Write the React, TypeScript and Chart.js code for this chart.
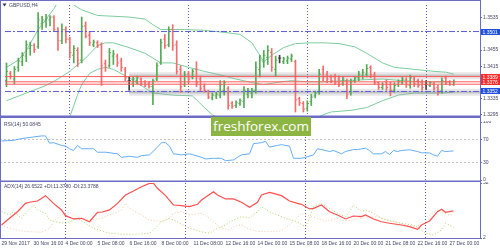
import { useEffect, useRef } from "react";
import { Chart, registerables } from "chart.js";

Chart.register(...registerables);

// ---------------- data ----------------
const tickLabels = ["29 Nov 2017", "30 Nov 16:00", "4 Dec 00:00", "5 Dec 08:00", "6 Dec 16:00", "8 Dec 00:00", "11 Dec 08:00", "12 Dec 16:00", "14 Dec 00:00", "15 Dec 08:00", "18 Dec 16:00", "20 Dec 00:00", "21 Dec 08:00", "22 Dec 16:00", "27 Dec 00:00"];
const tickBars = [0, 8, 16, 24, 32, 40, 48, 56, 64, 72, 80, 88, 96, 104, 112];
const weekStartBars = [16, 46, 76, 106];

const opens = [
  1.3379, 1.3397, 1.3383, 1.3412, 1.3426, 1.3440, 1.3459, 1.3466, 1.3463, 1.3520,
  1.3525, 1.3530, 1.3537, 1.3501, 1.3478, 1.3506, 1.3482, 1.3442, 1.3454, 1.3430,
  1.3515, 1.3492, 1.3468, 1.3473, 1.3468, 1.3421, 1.3416, 1.3440, 1.3440, 1.3428,
  1.3407, 1.3379, 1.3371, 1.3379, 1.3383, 1.3376, 1.3371, 1.3364, 1.3383, 1.3423,
  1.3482, 1.3468, 1.3506, 1.3468, 1.3407, 1.3369, 1.3395, 1.3388, 1.3407, 1.3383,
  1.3364, 1.3353, 1.3336, 1.3341, 1.3343, 1.3355, 1.3360, 1.3322, 1.3317, 1.3322,
  1.3327, 1.3345, 1.3348, 1.3355, 1.3407, 1.3426, 1.3437, 1.3449, 1.3407, 1.3435,
  1.3426, 1.3428, 1.3433, 1.3426, 1.3334, 1.3322, 1.3310, 1.3327, 1.3341, 1.3350,
  1.3407, 1.3393, 1.3388, 1.3388, 1.3383, 1.3371, 1.3379, 1.3350, 1.3379, 1.3386,
  1.3390, 1.3395, 1.3412, 1.3393, 1.3374, 1.3362, 1.3374, 1.3369, 1.3355, 1.3369,
  1.3374, 1.3381, 1.3367, 1.3383, 1.3379, 1.3374, 1.3369, 1.3367, 1.3371, 1.3362,
  1.3353, 1.3386, 1.3376, 1.3369,
];
const highs = [
  1.3423, 1.3402, 1.3414, 1.3435, 1.3449, 1.3478, 1.3475, 1.3471, 1.3548, 1.3539,
  1.3544, 1.3541, 1.3541, 1.3511, 1.3520, 1.3513, 1.3487, 1.3466, 1.3461, 1.3537,
  1.3525, 1.3501, 1.3480, 1.3478, 1.3473, 1.3430, 1.3459, 1.3454, 1.3445, 1.3435,
  1.3412, 1.3388, 1.3388, 1.3390, 1.3386, 1.3379, 1.3376, 1.3383, 1.3423, 1.3482,
  1.3494, 1.3513, 1.3518, 1.3478, 1.3416, 1.3402, 1.3402, 1.3407, 1.3426, 1.3390,
  1.3371, 1.3355, 1.3348, 1.3350, 1.3379, 1.3379, 1.3364, 1.3327, 1.3329, 1.3334,
  1.3364, 1.3360, 1.3360, 1.3426, 1.3442, 1.3454, 1.3466, 1.3459, 1.3440, 1.3442,
  1.3437, 1.3440, 1.3445, 1.3430, 1.3338, 1.3327, 1.3329, 1.3345, 1.3353, 1.3407,
  1.3416, 1.3402, 1.3393, 1.3395, 1.3390, 1.3388, 1.3383, 1.3383, 1.3390, 1.3402,
  1.3407, 1.3419, 1.3416, 1.3400, 1.3376, 1.3374, 1.3381, 1.3376, 1.3374, 1.3381,
  1.3388, 1.3386, 1.3393, 1.3388, 1.3383, 1.3381, 1.3379, 1.3376, 1.3374, 1.3367,
  1.3386, 1.3390, 1.3379, 1.3381,
];
const lows = [
  1.3364, 1.3383, 1.3371, 1.3402, 1.3416, 1.3426, 1.3442, 1.3449, 1.3459, 1.3506,
  1.3511, 1.3515, 1.3501, 1.3454, 1.3471, 1.3473, 1.3435, 1.3423, 1.3414, 1.3423,
  1.3485, 1.3466, 1.3463, 1.3461, 1.3367, 1.3402, 1.3412, 1.3419, 1.3414, 1.3402,
  1.3379, 1.3355, 1.3364, 1.3371, 1.3367, 1.3364, 1.3360, 1.3319, 1.3379, 1.3419,
  1.3459, 1.3463, 1.3454, 1.3395, 1.3350, 1.3364, 1.3374, 1.3383, 1.3364, 1.3353,
  1.3350, 1.3334, 1.3331, 1.3334, 1.3336, 1.3343, 1.3308, 1.3310, 1.3312, 1.3317,
  1.3312, 1.3336, 1.3336, 1.3348, 1.3388, 1.3412, 1.3419, 1.3402, 1.3390, 1.3423,
  1.3421, 1.3421, 1.3426, 1.3301, 1.3317, 1.3301, 1.3303, 1.3317, 1.3336, 1.3345,
  1.3379, 1.3374, 1.3374, 1.3369, 1.3364, 1.3367, 1.3334, 1.3343, 1.3374, 1.3379,
  1.3383, 1.3388, 1.3386, 1.3369, 1.3357, 1.3357, 1.3355, 1.3341, 1.3350, 1.3364,
  1.3369, 1.3362, 1.3360, 1.3364, 1.3362, 1.3355, 1.3357, 1.3364, 1.3355, 1.3343,
  1.3348, 1.3369, 1.3367, 1.3367,
];
const closes = [
  1.3402, 1.3390, 1.3407, 1.3428, 1.3442, 1.3468, 1.3466, 1.3456, 1.3530, 1.3530,
  1.3534, 1.3537, 1.3506, 1.3478, 1.3506, 1.3482, 1.3449, 1.3459, 1.3430, 1.3513,
  1.3489, 1.3473, 1.3475, 1.3466, 1.3416, 1.3412, 1.3449, 1.3445, 1.3423, 1.3412,
  1.3386, 1.3379, 1.3383, 1.3386, 1.3371, 1.3369, 1.3364, 1.3379, 1.3416, 1.3473,
  1.3466, 1.3506, 1.3466, 1.3402, 1.3364, 1.3393, 1.3383, 1.3402, 1.3374, 1.3360,
  1.3355, 1.3338, 1.3343, 1.3345, 1.3369, 1.3374, 1.3317, 1.3315, 1.3324, 1.3329,
  1.3355, 1.3353, 1.3355, 1.3412, 1.3430, 1.3442, 1.3454, 1.3412, 1.3430, 1.3435,
  1.3433, 1.3435, 1.3440, 1.3331, 1.3324, 1.3308, 1.3322, 1.3338, 1.3348, 1.3395,
  1.3388, 1.3383, 1.3379, 1.3374, 1.3369, 1.3383, 1.3345, 1.3376, 1.3386, 1.3395,
  1.3400, 1.3409, 1.3393, 1.3374, 1.3362, 1.3369, 1.3362, 1.3355, 1.3367, 1.3376,
  1.3383, 1.3369, 1.3386, 1.3371, 1.3367, 1.3362, 1.3369, 1.3374, 1.3360, 1.3350,
  1.3379, 1.3374, 1.3369, 1.3376,
];

const bbUpperIdx = [0, 3, 5, 6, 8, 10, 12, 13, 14, 15, 16, 17, 19, 23, 27, 31, 35, 37, 39, 41, 45, 50, 55, 59, 62, 64, 65, 67, 70, 73, 77, 80, 84, 88, 91, 95, 98, 103, 108, 111, 113];
const bbUpperVal = [1.3412, 1.3430, 1.3454, 1.3471, 1.3506, 1.3532, 1.3558, 1.3574, 1.3586, 1.3584, 1.3577, 1.3567, 1.3555, 1.3541, 1.3539, 1.3537, 1.3532, 1.3518, 1.3506, 1.3506, 1.3506, 1.3504, 1.3499, 1.3494, 1.3473, 1.3442, 1.3426, 1.3442, 1.3461, 1.3471, 1.3473, 1.3473, 1.3471, 1.3463, 1.3447, 1.3423, 1.3412, 1.3407, 1.3402, 1.3400, 1.3395];
const bbMidIdx = [0, 5, 10, 13, 16, 18, 20, 23, 25, 27, 31, 35, 39, 42, 46, 50, 54, 58, 62, 65, 68, 72, 76, 80, 85, 90, 95, 100, 105, 110, 113];
const bbMidVal = [1.3329, 1.3348, 1.3367, 1.3383, 1.3402, 1.3419, 1.3435, 1.3466, 1.3473, 1.3473, 1.3461, 1.3447, 1.3423, 1.3423, 1.3412, 1.3402, 1.3393, 1.3383, 1.3374, 1.3369, 1.3374, 1.3379, 1.3376, 1.3376, 1.3379, 1.3381, 1.3383, 1.3379, 1.3376, 1.3376, 1.3376];
const bbLowerIdx = [14, 16, 18, 19, 21, 23, 25, 27, 31, 34, 37, 42, 47, 50, 52, 55, 60, 70, 76, 80, 82, 87, 91, 95, 99, 103, 110, 113];
const bbLowerVal = [1.3265, 1.3289, 1.3345, 1.3369, 1.3397, 1.3407, 1.3412, 1.3407, 1.3386, 1.3367, 1.3348, 1.3343, 1.3341, 1.3312, 1.3294, 1.3277, 1.3270, 1.3265, 1.3275, 1.3294, 1.3301, 1.3305, 1.3312, 1.3329, 1.3343, 1.3348, 1.3348, 1.3350];

const rsiIdx = [0, 3, 5, 8, 10, 11, 12, 13, 15, 16, 17, 18, 19, 20, 22, 23, 24, 26, 29, 30, 32, 34, 35, 37, 39, 40, 41, 42, 43, 45, 47, 48, 50, 51, 53, 55, 56, 58, 59, 60, 62, 63, 65, 66, 67, 69, 70, 72, 73, 75, 76, 78, 79, 81, 82, 83, 85, 86, 88, 89, 91, 92, 93, 95, 96, 97, 98, 99, 100, 102, 104, 105, 107, 108, 109, 110, 111, 112, 113];
const rsiVal = [67.2, 68.4, 71.4, 74.2, 76, 76, 63.5, 64.4, 59.6, 58.4, 53.9, 50.9, 59.6, 53.9, 53.9, 53.9, 47.9, 47.9, 45.1, 39.1, 40.9, 39.1, 42.1, 43.3, 56.7, 64.4, 64.4, 58.4, 45.1, 43.3, 45.1, 43.3, 39.1, 36.3, 37.4, 37.4, 33.3, 34.6, 39.1, 43.3, 45.1, 62.6, 64.4, 66.7, 56.7, 59.6, 60.9, 58.4, 37.4, 37.4, 39.1, 43.3, 53.9, 50.9, 49.1, 50.9, 45.1, 49.1, 52.6, 52.6, 54.9, 50.9, 45.1, 45.1, 49.1, 43.9, 50.9, 49.1, 50.9, 52.1, 49.1, 46.8, 46.8, 43.3, 40.9, 50.9, 49.1, 49.6, 50.08];

const adxIdx = [0, 2, 4, 6, 7, 9, 11, 13, 15, 16, 18, 20, 22, 24, 25, 27, 29, 31, 33, 35, 37, 38, 39, 41, 43, 45, 47, 49, 50, 53, 54, 56, 58, 60, 62, 64, 65, 67, 68, 70, 72, 74, 75, 77, 78, 80, 82, 84, 86, 88, 90, 91, 93, 95, 97, 100, 102, 104, 105, 107, 109, 110, 111, 113];
const adxVal = [13.8, 19.9, 25.9, 33.5, 34.5, 35.6, 40.5, 33.5, 27.5, 22.3, 19.3, 19.9, 16.8, 25.4, 25.4, 27.5, 33.5, 41.1, 44.7, 48.6, 51.7, 51.7, 47.2, 40.5, 32, 31.4, 30.5, 32.6, 36.5, 44.1, 41.1, 37.5, 37.5, 34.5, 30, 34.5, 41.1, 43.5, 42.6, 40.5, 35.6, 33.5, 32.6, 28.4, 29, 32, 25.9, 22.9, 19.3, 22, 21.4, 22.9, 19.3, 16.8, 15.4, 13.8, 12.3, 9.9, 13.8, 17.5, 25.9, 28.1, 25.4, 26.65];
const plusDiIdx = [0, 2, 3, 5, 6, 8, 9, 11, 12, 14, 16, 17, 19, 21, 23, 27, 30, 34, 37, 38, 40, 42, 43, 45, 47, 50, 52, 54, 56, 57, 60, 62, 64, 65, 67, 69, 71, 74, 76, 77, 78, 80, 82, 84, 86, 87, 88, 90, 91, 93, 95, 98, 100, 103, 105, 106, 108, 110, 111, 112, 113];
const plusDiVal = [25.9, 22.9, 25.9, 19.9, 24.5, 32, 27.5, 24.5, 18.4, 16.3, 15.4, 16.8, 19.9, 15.4, 10.8, 6.3, 5.4, 5.4, 6.3, 9.3, 16.8, 19.9, 18.4, 14.5, 10.8, 7.7, 6.3, 10.8, 13.8, 16.8, 21.4, 20.5, 25.9, 30.5, 25.9, 22.9, 19.9, 16.8, 12.3, 19.9, 30.5, 33.5, 29, 24.5, 21.4, 25.9, 32, 25.9, 27.5, 24.5, 19.9, 16.8, 15.4, 13.8, 9.3, 6.3, 4.7, 9.3, 15.4, 13.8, 11.378];
const minusDiIdx = [0, 2, 5, 7, 10, 12, 13, 15, 17, 18, 20, 22, 25, 27, 30, 31, 32, 35, 37, 40, 42, 43, 45, 47, 50, 52, 53, 55, 57, 58, 60, 62, 64, 67, 70, 72, 75, 76, 79, 81, 84, 86, 89, 91, 94, 96, 99, 101, 104, 105, 107, 109, 110, 112, 113];
const minusDiVal = [13.8, 10.8, 8.4, 7.7, 7.2, 10.8, 16.8, 22.9, 25.9, 22.9, 19.9, 18.4, 19.9, 22.9, 27.5, 33.5, 29, 22.9, 18.4, 16.8, 19.9, 24.5, 25.9, 22.9, 24.5, 19.9, 16.8, 10.8, 9.3, 12.3, 14, 10, 7.9, 7.7, 8.4, 14, 24.5, 22.9, 19.9, 17.5, 19.9, 17.5, 19.3, 20.5, 21.4, 18.4, 16.3, 13.8, 12.3, 16.8, 22.9, 27.5, 25.9, 22.9, 23.379];

const priceTicks = [1.3295, 1.3335, 1.3375, 1.3415, 1.3455, 1.3495, 1.3535];
const rsiTicks = [0, 30, 70, 100];
const rsiLevels = [30, 70];
const adxTicks = [2, 52];
const blueLevels = [1.3501, 1.3352];
const redLevels = [1.3389, 1.3376, 1.3370];
const bandLevels = [1.3391, 1.3350];
const bandStartBar = 31;
const tagValues = [1.3501, 1.3389, 1.3376, 1.3352];
const tagKinds = ["blue", "red", "red", "blue"];

const symbolTitle = "GBPUSD,H4";
const rsiTitle = "RSI(14) 50.0845";
const adxTitle = "ADX(14) 26.6522 +DI:11.3780 -DI:23.3788";
const watermarkText = "freshforex.com";

// ---------------- styles ----------------
const X_MIN = -0.375;
const X_MAX = 119.625;
const PRICE_MIN = 1.3291;
const PRICE_MAX = 1.3567;
const FONT = "'Liberation Sans', Arial, sans-serif";
const FRAME = "#6c6cc4";
const SEP = "#5c5cb8";
const TXT = "#45456a";
const BULL = "#55a955";
const BEAR = "#f26d6d";
const DOJI = "#404040";
const BB = "#7ccd9e";
const RSI_C = "#62aef7";
const ADX_C = "#ff4f4f";
const PDI_C = "#b0d464";
const MDI_C = "#f5c6a4";
const RED_LINE = "#ff5c5c";
const BLUE_LINE = "#5b5be0";
const TAG_BG: Record<string, string> = { blue: "#1f4fe0", red: "#ff2a2a" };

const pts = (xs: number[], ys: number[]) => xs.map((x, k) => ({ x, y: ys[k] }));
const hline = (v: number, from = X_MIN) => [{ x: from, y: v }, { x: X_MAX, y: v }];
const lineDS = (data: any[], color: string, width: number, dash: number[] = []) => ({
  type: "line" as const, data, borderColor: color, borderWidth: width, borderDash: dash,
  pointRadius: 0, fill: false, tension: 0,
});

const baseOpts = (padTop: number, padBottom: number) => ({
  responsive: false, animation: false as const, devicePixelRatio: 1, events: [] as any[],
  layout: { padding: { top: padTop, bottom: padBottom, left: 0, right: 0 } },
  plugins: { legend: { display: false }, tooltip: { enabled: false } },
});

const plainX = () => ({
  type: "linear" as const, min: X_MIN, max: X_MAX, offset: false,
  afterBuildTicks: (s: any) => { s.ticks = weekStartBars.map((v) => ({ value: v })); },
  afterFit: (s: any) => { s.height = 0; s.paddingLeft = 0; s.paddingRight = 0; },
  ticks: { display: false },
  grid: { drawTicks: false, color: SEP, lineWidth: 1, offset: false },
  border: { display: false, dash: [1, 2] },
});

const rightY = (min: number, max: number, ticks: number[], fmt: (v: number) => string, grid: any = {}) => ({
  type: "linear" as const, position: "right" as const, min, max,
  afterBuildTicks: (s: any) => { s.ticks = ticks.map((v) => ({ value: v })); },
  afterFit: (s: any) => { s.width = 20; s.paddingTop = 0; s.paddingBottom = 0; },
  ticks: { autoSkip: false, padding: 1, color: TXT, font: { size: 5, family: FONT }, callback: (v: any) => fmt(Number(v)) },
  grid: { drawOnChartArea: false, drawTicks: true, tickLength: 2, color: FRAME, tickColor: FRAME, ...grid },
  border: { display: false, dash: [2, 2] },
});

const caption = (ctx: CanvasRenderingContext2D, text: string, x: number, y: number) => {
  ctx.fillStyle = TXT;
  ctx.font = `5px ${FONT}`;
  ctx.textBaseline = "middle";
  ctx.textAlign = "left";
  ctx.fillText(text, x, y);
};

const mainDecor = {
  id: "mainDecor",
  afterDraw(chart: any) {
    const { ctx, chartArea: a, height } = chart;
    const ys = chart.scales.y;
    ctx.save();
    ctx.fillStyle = FRAME;
    ctx.fillRect(0, 0, a.right + 1, 1);
    ctx.fillRect(0, 0, 1, height);
    ctx.fillRect(a.right, 0, 1, height);
    ctx.fillRect(0, a.bottom - 0.5, a.right + 1, 2.5);
    tagValues.forEach((v, k) => {
      const y = ys.getPixelForValue(v);
      ctx.fillStyle = TAG_BG[tagKinds[k]];
      ctx.fillRect(a.right + 1, Math.round(y) - 3, 19, 6);
      ctx.fillStyle = "#ffffff";
      ctx.font = `5px ${FONT}`;
      ctx.textBaseline = "middle";
      ctx.textAlign = "left";
      ctx.fillText(v.toFixed(4), a.right + 2.5, Math.round(y) + 0.2);
    });
    ctx.fillStyle = "#2e2e6a";
    ctx.beginPath();
    ctx.moveTo(2.5, 3.5); ctx.lineTo(6.5, 3.5); ctx.lineTo(4.5, 6.5); ctx.closePath();
    ctx.fill();
    caption(ctx, symbolTitle, 9, 5.5);
    ctx.restore();
  },
};

const rsiDecor = {
  id: "rsiDecor",
  afterDraw(chart: any) {
    const { ctx, chartArea: a, height } = chart;
    ctx.save();
    ctx.fillStyle = FRAME;
    ctx.fillRect(0, 0, 1, height);
    ctx.fillRect(a.right, 0, 1, height);
    ctx.fillRect(0, a.bottom + 0.5, a.right + 1, 2.4);
    caption(ctx, rsiTitle, 4, 4);
    ctx.restore();
  },
};

const adxDecor = {
  id: "adxDecor",
  afterDraw(chart: any) {
    const { ctx, chartArea: a } = chart;
    ctx.save();
    ctx.fillStyle = FRAME;
    ctx.fillRect(0, 0, 1, a.bottom + 1);
    ctx.fillRect(a.right, 0, 1, a.bottom + 1);
    ctx.fillRect(0, a.bottom, a.right + 1, 1);
    caption(ctx, adxTitle, 4, 4.5);
    ctx.restore();
  },
};

function mainConfig(): any {
  const idx = opens.map((_, i) => i);
  const colors = opens.map((o, i) => (closes[i] > o ? BULL : closes[i] < o ? BEAR : DOJI));
  const tickDS = (xs: number[], ys: number[]) => ({
    type: "line" as const, data: pts(xs, ys), showLine: false, pointStyle: "line",
    pointRadius: 0.6, pointBorderWidth: 1, pointBorderColor: colors, pointBackgroundColor: colors,
  });
  return {
    type: "line",
    data: {
      datasets: [
        ...redLevels.map((v) => lineDS(hline(v), RED_LINE, 1)),
        ...blueLevels.map((v) => lineDS(hline(v), BLUE_LINE, 1, [6, 2, 2, 2])),
        tickDS(idx.map((i) => i - 0.25), opens),
        tickDS(idx.map((i) => i + 0.25), closes),
        {
          type: "bar", data: idx.map((i) => ({ x: i, y: [lows[i], highs[i]] })),
          backgroundColor: colors, barThickness: 1, borderWidth: 0, grouped: false,
        },
        ...bandLevels.map((v) => lineDS(hline(v, bandStartBar), "rgba(120,120,120,0.30)", 2.5)),
        ...bandLevels.map((v) => lineDS(hline(v, bandStartBar), "rgba(170,170,170,0.28)", 7)),
        lineDS(pts(bbUpperIdx, bbUpperVal), BB, 1),
        lineDS(pts(bbMidIdx, bbMidVal), BB, 1),
        lineDS(pts(bbLowerIdx, bbLowerVal), BB, 1),
      ],
    },
    options: {
      ...baseOpts(2, 2),
      scales: {
        x: plainX(),
        y: rightY(PRICE_MIN, PRICE_MAX, priceTicks, (v) => v.toFixed(4)),
      },
    },
    plugins: [mainDecor],
  };
}

function rsiConfig(): any {
  return {
    type: "line",
    data: { datasets: [lineDS(pts(rsiIdx, rsiVal), RSI_C, 1)] },
    options: {
      ...baseOpts(1, 2),
      scales: {
        x: plainX(),
        y: rightY(0, 100, rsiTicks, (v) => String(v), {
          drawOnChartArea: true,
          color: (c: any) => (c.tick && rsiLevels.includes(c.tick.value) ? "#c4c4c4" : "rgba(0,0,0,0)"),
        }),
      },
    },
    plugins: [rsiDecor],
  };
}

function adxConfig(): any {
  const allTicks = Array.from(new Set([...tickBars, ...weekStartBars])).sort((a, b) => a - b);
  return {
    type: "line",
    data: {
      datasets: [
        lineDS(pts(adxIdx, adxVal), ADX_C, 1.2),
        lineDS(pts(plusDiIdx, plusDiVal), PDI_C, 1, [1, 2]),
        lineDS(pts(minusDiIdx, minusDiVal), MDI_C, 1, [1, 2]),
      ],
    },
    options: {
      ...baseOpts(1, 0),
      scales: {
        x: {
          type: "linear", min: X_MIN, max: X_MAX, offset: false,
          afterBuildTicks: (s: any) => { s.ticks = allTicks.map((v) => ({ value: v })); },
          afterFit: (s: any) => { s.height = 12; s.paddingLeft = 0; s.paddingRight = 0; },
          ticks: {
            display: true, autoSkip: false, maxRotation: 0, minRotation: 0, align: "start", padding: 3,
            color: TXT, font: { size: 5, family: FONT },
            callback: (v: any) => { const k = tickBars.indexOf(Number(v)); return k >= 0 ? tickLabels[k] : ""; },
          },
          grid: {
            drawTicks: false, offset: false, lineWidth: 1,
            color: (c: any) => (c.tick && weekStartBars.includes(c.tick.value) ? SEP : "rgba(0,0,0,0)"),
          },
          border: { display: false, dash: [1, 2] },
        },
        y: rightY(2, 52, adxTicks, (v) => String(v)),
      },
    },
    plugins: [adxDecor],
  };
}

export default function App() {
  const mainRef = useRef<HTMLCanvasElement>(null);
  const rsiRef = useRef<HTMLCanvasElement>(null);
  const adxRef = useRef<HTMLCanvasElement>(null);

  useEffect(() => {
    const charts = [
      new Chart(mainRef.current as HTMLCanvasElement, mainConfig()),
      new Chart(rsiRef.current as HTMLCanvasElement, rsiConfig()),
      new Chart(adxRef.current as HTMLCanvasElement, adxConfig()),
    ];
    return () => charts.forEach((c) => c.destroy());
  }, []);

  const cv = (top: number, h: number): React.CSSProperties => ({ position: "absolute", left: 0, top, width: 500, height: h });

  return (
    <div style={{ position: "absolute", left: 0, top: 0, width: 500, height: 250, background: "#ffffff", overflow: "hidden" }}>
      <canvas ref={mainRef} width={500} height={121} style={cv(0, 121)} />
      <canvas ref={rsiRef} width={500} height={61} style={cv(121, 61)} />
      <canvas ref={adxRef} width={500} height={68} style={cv(182, 68)} />
      <div
        style={{
          position: "absolute", left: 211, top: 117, width: 100, height: 19, background: "#8db543",
          color: "#ffffff", fontFamily: "'Open Sans', sans-serif", fontSize: 13.5, lineHeight: "19px",
          textAlign: "center", whiteSpace: "nowrap",
        }}
      >
        {watermarkText}
      </div>
    </div>
  );
}
